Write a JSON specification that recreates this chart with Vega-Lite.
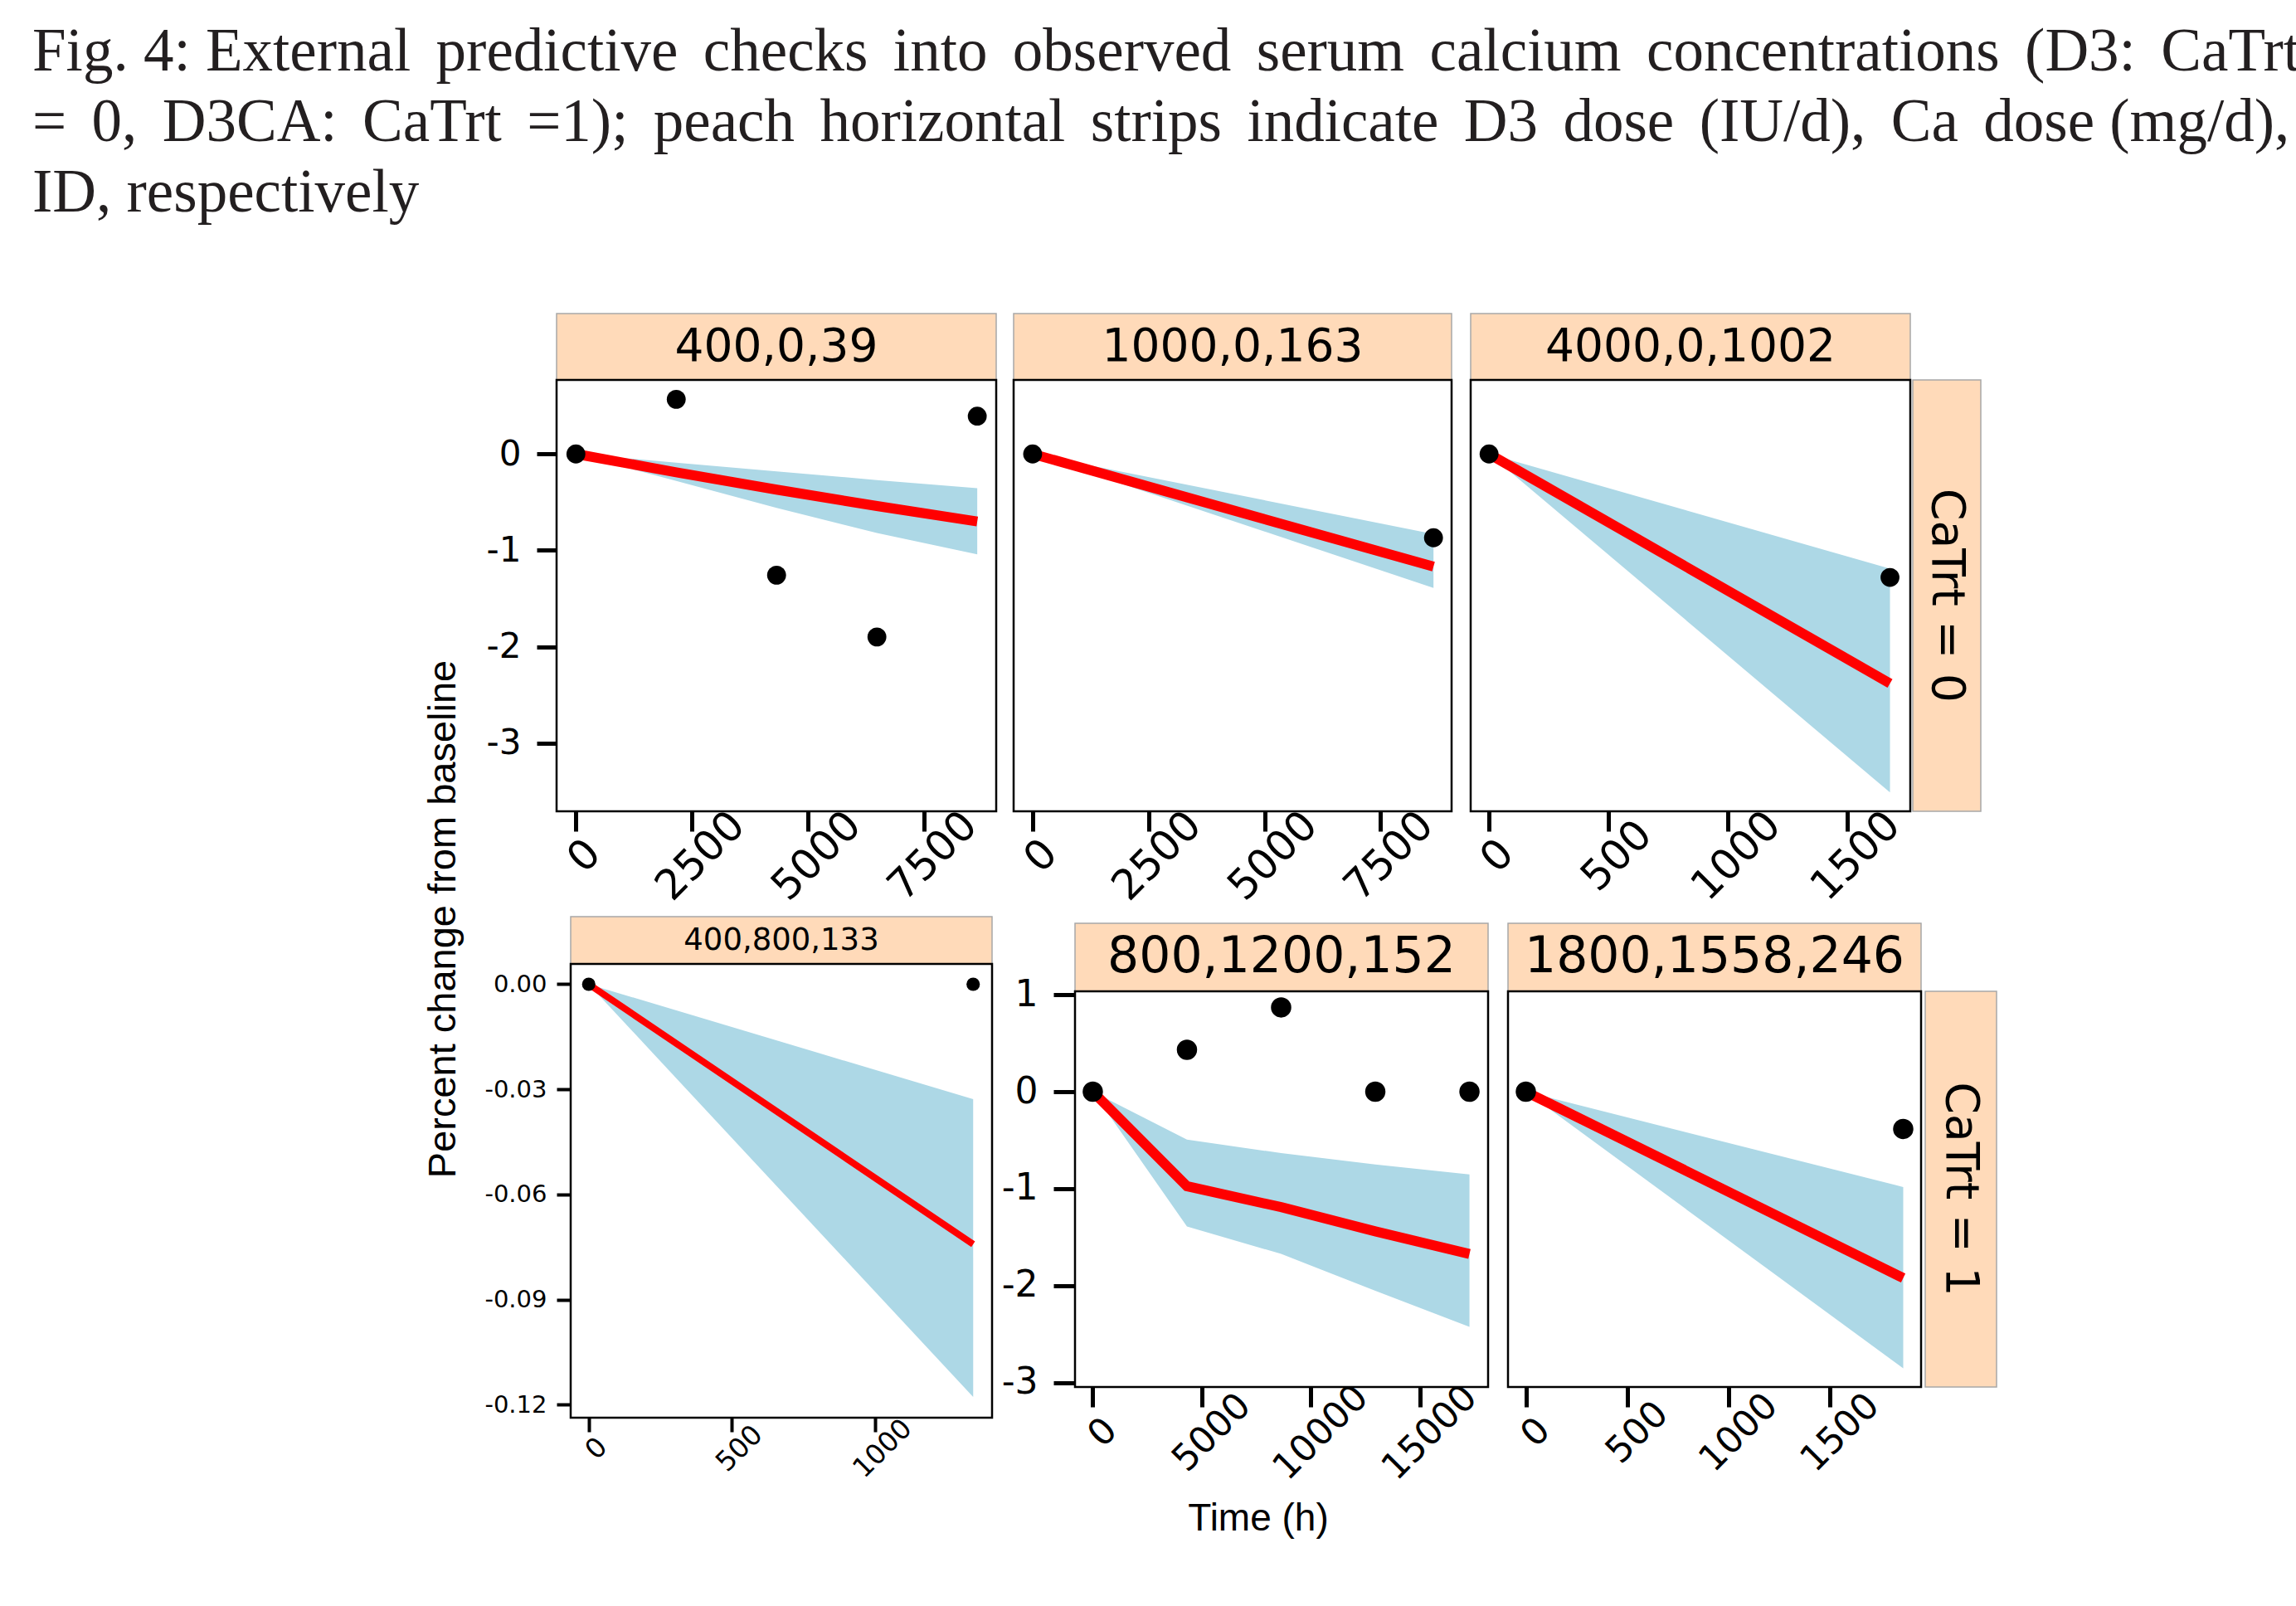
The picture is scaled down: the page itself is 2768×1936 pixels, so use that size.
{
  "$schema": "https://vega.github.io/schema/vega-lite/v6.json",
  "background": "white",
  "padding": {"left": 39, "top": 27, "right": 0, "bottom": 0},
  "title": {
    "text": [
      "Fig. 4: External \u2006predictive \u2006checks \u2006into \u2006observed \u2006serum \u2006calcium \u2006concentrations \u2006(D3: \u2006CaTrt",
      "= \u20060, \u2006D3CA: \u2006CaTrt \u2006=1); \u2006peach \u2006horizontal \u2006strips \u2006indicate \u2006D3 \u2006dose \u2006(IU/d), \u2006Ca \u2006dose (mg/d),",
      "ID, respectively"
    ],
    "anchor": "start",
    "frame": "bounds",
    "font": "Liberation Serif",
    "fontSize": 73,
    "fontWeight": "normal",
    "color": "#231f20",
    "lineHeight": 85,
    "offset": 107,
    "dx": -471
  },
  "config": {
    "view": {"stroke": null},
    "axis": {"domain": false, "grid": false, "tickColor": "black", "labelColor": "black", "labelFont": "DejaVu Sans", "labelOverlap": false, "labelFlush": false},
    "locale": {"number": {"decimal": ".", "thousands": ",", "grouping": [3], "currency": ["$", ""], "minus": "-"}}
  },
  "datasets": {
    "p1": [
      {"t": 0, "obs": 0, "med": 0, "lo": 0, "hi": 0},
      {"t": 2160, "obs": 0.567, "med": -0.19, "lo": -0.28, "hi": -0.09},
      {"t": 4320, "obs": -1.257, "med": -0.37, "lo": -0.56, "hi": -0.18},
      {"t": 6480, "obs": -1.898, "med": -0.54, "lo": -0.82, "hi": -0.27},
      {"t": 8640, "obs": 0.392, "med": -0.70, "lo": -1.04, "hi": -0.354}
    ],
    "p2": [
      {"t": 0, "obs": 0, "med": 0, "lo": 0, "hi": 0},
      {"t": 8640, "obs": -0.869, "med": -1.168, "lo": -1.39, "hi": -0.83}
    ],
    "p3": [
      {"t": 0, "obs": 0, "med": 0, "lo": 0, "hi": 0},
      {"t": 1678, "obs": -1.28, "med": -2.38, "lo": -3.51, "hi": -1.19}
    ],
    "p4": [
      {"t": 0, "obs": 0, "med": 0, "lo": 0, "hi": 0},
      {"t": 1343, "obs": 0, "med": -0.0742, "lo": -0.1178, "hi": -0.0328}
    ],
    "p5": [
      {"t": 0, "obs": 0, "med": 0, "lo": 0, "hi": 0},
      {"t": 4320, "obs": 0.432, "med": -0.974, "lo": -1.389, "hi": -0.493},
      {"t": 8640, "obs": 0.869, "med": -1.19, "lo": -1.672, "hi": -0.633},
      {"t": 12960, "obs": 0, "med": -1.44, "lo": -2.052, "hi": -0.751},
      {"t": 17280, "obs": 0, "med": -1.672, "lo": -2.424, "hi": -0.852}
    ],
    "p6": [
      {"t": 0, "obs": 0, "med": 0, "lo": 0, "hi": 0},
      {"t": 1860, "obs": -0.384, "med": -1.921, "lo": -2.852, "hi": -0.983}
    ]
  },
  "spacing": 22,
  "hconcat": [
    {
      "width": 50, "height": 1460,
      "data": {"values": [{"s": "Percent change from baseline"}]},
      "mark": {"type": "text", "angle": 270, "font": "Liberation Sans", "fontSize": 47, "color": "black", "align": "center", "baseline": "middle"},
      "encoding": {"text": {"field": "s"}}
    },
    {
      "spacing": 8,
      "vconcat": [
        {
          "spacing": 15,
          "hconcat": [
            {
              "spacing": 0, "bounds": "flush",
              "vconcat": [
                {
                  "width": 530, "height": 80,
                  "view": {"fill": "peachpuff", "stroke": "#a8a8a8", "strokeWidth": 1.5},
                  "data": {"values": [{"s": "400,0,39"}]},
                  "mark": {"type": "text", "font": "DejaVu Sans", "fontSize": 55, "color": "black", "align": "center", "baseline": "middle"},
                  "encoding": {"text": {"field": "s"}}
                },
                {
                  "width": 530, "height": 520,
                  "view": {"stroke": "black", "strokeWidth": 2.5},
                  "data": {"name": "p1"},
                  "encoding": {"x": {"field": "t", "type": "quantitative", "scale": {"domain": [-416, 9048], "nice": false, "zero": false}, "axis": {"title": null, "values": [0, 2500, 5000, 7500], "format": "d", "labelAngle": 315, "labelAlign": "center", "labelBaseline": "middle", "labelFontSize": 50, "labelPadding": 30, "labelOffset": 10, "tickSize": 24, "tickWidth": 5}}},
                  "layer": [
                    {"mark": {"type": "area", "color": "#add8e6"}, "encoding": {"y": {"field": "lo", "type": "quantitative", "scale": {"domain": [-3.706, 0.768], "nice": false, "zero": false}, "axis": {"title": null, "values": [0, -1, -2, -3], "format": "d", "labelFontSize": 42, "labelPadding": 19, "tickSize": 24, "tickWidth": 5}}, "y2": {"field": "hi"}}},
                    {"mark": {"type": "line", "color": "#ff0000", "strokeWidth": 12}, "encoding": {"y": {"field": "med", "type": "quantitative", "scale": {"domain": [-3.706, 0.768], "nice": false, "zero": false}, "axis": {"title": null, "values": [0, -1, -2, -3], "format": "d", "labelFontSize": 42, "labelPadding": 19, "tickSize": 24, "tickWidth": 5}}}},
                    {"mark": {"type": "point", "filled": true, "color": "black", "opacity": 1, "size": 520}, "encoding": {"y": {"field": "obs", "type": "quantitative", "scale": {"domain": [-3.706, 0.768], "nice": false, "zero": false}, "axis": {"title": null, "values": [0, -1, -2, -3], "format": "d", "labelFontSize": 42, "labelPadding": 19, "tickSize": 24, "tickWidth": 5}}}}
                  ]
                }
              ]
            },
            {
              "spacing": 0, "bounds": "flush",
              "vconcat": [
                {
                  "width": 528, "height": 80,
                  "view": {"fill": "peachpuff", "stroke": "#a8a8a8", "strokeWidth": 1.5},
                  "data": {"values": [{"s": "1000,0,163"}]},
                  "mark": {"type": "text", "font": "DejaVu Sans", "fontSize": 55, "color": "black", "align": "center", "baseline": "middle"},
                  "encoding": {"text": {"field": "s"}}
                },
                {
                  "width": 528, "height": 520,
                  "view": {"stroke": "black", "strokeWidth": 2.5},
                  "data": {"name": "p2"},
                  "encoding": {"x": {"field": "t", "type": "quantitative", "scale": {"domain": [-410, 9030], "nice": false, "zero": false}, "axis": {"title": null, "values": [0, 2500, 5000, 7500], "format": "d", "labelAngle": 315, "labelAlign": "center", "labelBaseline": "middle", "labelFontSize": 50, "labelPadding": 30, "labelOffset": 10, "tickSize": 24, "tickWidth": 5}}},
                  "layer": [
                    {"mark": {"type": "area", "color": "#add8e6"}, "encoding": {"y": {"field": "lo", "type": "quantitative", "scale": {"domain": [-3.706, 0.768], "nice": false, "zero": false}, "axis": null}, "y2": {"field": "hi"}}},
                    {"mark": {"type": "line", "color": "#ff0000", "strokeWidth": 12}, "encoding": {"y": {"field": "med", "type": "quantitative", "scale": {"domain": [-3.706, 0.768], "nice": false, "zero": false}, "axis": null}}},
                    {"mark": {"type": "point", "filled": true, "color": "black", "opacity": 1, "size": 520}, "encoding": {"y": {"field": "obs", "type": "quantitative", "scale": {"domain": [-3.706, 0.768], "nice": false, "zero": false}, "axis": null}}}
                  ]
                }
              ]
            },
            {
              "spacing": 0,
              "hconcat": [
                {
                  "spacing": 0, "bounds": "flush",
                  "vconcat": [
                    {
                      "width": 530, "height": 80,
                      "view": {"fill": "peachpuff", "stroke": "#a8a8a8", "strokeWidth": 1.5},
                      "data": {"values": [{"s": "4000,0,1002"}]},
                      "mark": {"type": "text", "font": "DejaVu Sans", "fontSize": 55, "color": "black", "align": "center", "baseline": "middle"},
                      "encoding": {"text": {"field": "s"}}
                    },
                    {
                      "width": 530, "height": 520,
                      "view": {"stroke": "black", "strokeWidth": 2.5},
                      "data": {"name": "p3"},
                      "encoding": {"x": {"field": "t", "type": "quantitative", "scale": {"domain": [-77, 1763], "nice": false, "zero": false}, "axis": {"title": null, "values": [0, 500, 1000, 1500], "format": "d", "labelAngle": 315, "labelAlign": "center", "labelBaseline": "middle", "labelFontSize": 50, "labelPadding": 30, "labelOffset": 10, "tickSize": 24, "tickWidth": 5}}},
                      "layer": [
                        {"mark": {"type": "area", "color": "#add8e6"}, "encoding": {"y": {"field": "lo", "type": "quantitative", "scale": {"domain": [-3.706, 0.768], "nice": false, "zero": false}, "axis": null}, "y2": {"field": "hi"}}},
                        {"mark": {"type": "line", "color": "#ff0000", "strokeWidth": 12}, "encoding": {"y": {"field": "med", "type": "quantitative", "scale": {"domain": [-3.706, 0.768], "nice": false, "zero": false}, "axis": null}}},
                        {"mark": {"type": "point", "filled": true, "color": "black", "opacity": 1, "size": 520}, "encoding": {"y": {"field": "obs", "type": "quantitative", "scale": {"domain": [-3.706, 0.768], "nice": false, "zero": false}, "axis": null}}}
                      ]
                    }
                  ]
                },
                {
                  "spacing": 0, "bounds": "flush",
                  "vconcat": [
                    {"width": 82, "height": 80, "data": {"values": []}, "mark": "point"},
                    {
                      "width": 82, "height": 520,
                      "view": {"fill": "peachpuff", "stroke": "#a8a8a8", "strokeWidth": 1.5},
                      "data": {"values": [{"s": "CaTrt = 0"}]},
                      "mark": {"type": "text", "angle": 90, "font": "DejaVu Sans", "fontSize": 55, "color": "black", "align": "center", "baseline": "middle"},
                      "encoding": {"text": {"field": "s"}}
                    }
                  ]
                }
              ]
            }
          ]
        },
        {
          "spacing": 0,
          "vconcat": [
            {
              "spacing": 0, "bounds": "flush",
              "hconcat": [
                {"width": 17, "height": 1, "data": {"values": []}, "mark": "point"},
                {
                  "spacing": 7,
                  "hconcat": [
                    {
                      "spacing": 0, "bounds": "flush",
                      "vconcat": [
                        {
                          "width": 508, "height": 57,
                          "view": {"fill": "peachpuff", "stroke": "#a8a8a8", "strokeWidth": 1.5},
                          "data": {"values": [{"s": "400,800,133"}]},
                          "mark": {"type": "text", "font": "DejaVu Sans", "fontSize": 37, "color": "black", "align": "center", "baseline": "middle"},
                          "encoding": {"text": {"field": "s"}}
                        },
                        {
                          "width": 508, "height": 547,
                          "view": {"stroke": "black", "strokeWidth": 2.5},
                          "data": {"name": "p4"},
                          "encoding": {"x": {"field": "t", "type": "quantitative", "scale": {"domain": [-63, 1409], "nice": false, "zero": false}, "axis": {"title": null, "values": [0, 500, 1000], "format": "d", "labelAngle": 315, "labelAlign": "center", "labelBaseline": "middle", "labelFontSize": 33, "labelPadding": 20, "labelOffset": 9, "tickSize": 17, "tickWidth": 4}}},
                          "layer": [
                            {"mark": {"type": "area", "color": "#add8e6"}, "encoding": {"y": {"field": "lo", "type": "quantitative", "scale": {"domain": [-0.1237, 0.0058], "nice": false, "zero": false}, "axis": {"title": null, "values": [0, -0.03, -0.06, -0.09, -0.12], "format": ".2f", "labelFontSize": 29, "labelPadding": 12, "tickSize": 17, "tickWidth": 4}}, "y2": {"field": "hi"}}},
                            {"mark": {"type": "line", "color": "#ff0000", "strokeWidth": 8}, "encoding": {"y": {"field": "med", "type": "quantitative", "scale": {"domain": [-0.1237, 0.0058], "nice": false, "zero": false}, "axis": {"title": null, "values": [0, -0.03, -0.06, -0.09, -0.12], "format": ".2f", "labelFontSize": 29, "labelPadding": 12, "tickSize": 17, "tickWidth": 4}}}},
                            {"mark": {"type": "point", "filled": true, "color": "black", "opacity": 1, "size": 260}, "encoding": {"y": {"field": "obs", "type": "quantitative", "scale": {"domain": [-0.1237, 0.0058], "nice": false, "zero": false}, "axis": {"title": null, "values": [0, -0.03, -0.06, -0.09, -0.12], "format": ".2f", "labelFontSize": 29, "labelPadding": 12, "tickSize": 17, "tickWidth": 4}}}}
                          ]
                        }
                      ]
                    },
                    {
                      "spacing": 0,
                      "vconcat": [
                        {"width": 1, "height": 7, "data": {"values": []}, "mark": "point"},
                        {
                          "spacing": 17,
                          "hconcat": [
                            {
                              "spacing": 0, "bounds": "flush",
                              "vconcat": [
                                {
                                  "width": 498, "height": 82,
                                  "view": {"fill": "peachpuff", "stroke": "#a8a8a8", "strokeWidth": 1.5},
                                  "data": {"values": [{"s": "800,1200,152"}]},
                                  "mark": {"type": "text", "font": "DejaVu Sans", "fontSize": 60, "color": "black", "align": "center", "baseline": "middle"},
                                  "encoding": {"text": {"field": "s"}}
                                },
                                {
                                  "width": 498, "height": 477,
                                  "view": {"stroke": "black", "strokeWidth": 2.5},
                                  "data": {"name": "p5"},
                                  "encoding": {"x": {"field": "t", "type": "quantitative", "scale": {"domain": [-816, 18134], "nice": false, "zero": false}, "axis": {"title": null, "values": [0, 5000, 10000, 15000], "format": "d", "labelAngle": 315, "labelAlign": "center", "labelBaseline": "middle", "labelFontSize": 44, "labelPadding": 31, "labelOffset": 12, "tickSize": 24, "tickWidth": 5}}},
                                  "layer": [
                                    {"mark": {"type": "area", "color": "#add8e6"}, "encoding": {"y": {"field": "lo", "type": "quantitative", "scale": {"domain": [-3.044, 1.035], "nice": false, "zero": false}, "axis": {"title": null, "values": [1, 0, -1, -2, -3], "format": "d", "labelFontSize": 44, "labelPadding": 19, "tickSize": 26, "tickWidth": 5}}, "y2": {"field": "hi"}}},
                                    {"mark": {"type": "line", "color": "#ff0000", "strokeWidth": 12}, "encoding": {"y": {"field": "med", "type": "quantitative", "scale": {"domain": [-3.044, 1.035], "nice": false, "zero": false}, "axis": {"title": null, "values": [1, 0, -1, -2, -3], "format": "d", "labelFontSize": 44, "labelPadding": 19, "tickSize": 26, "tickWidth": 5}}}},
                                    {"mark": {"type": "point", "filled": true, "color": "black", "opacity": 1, "size": 600}, "encoding": {"y": {"field": "obs", "type": "quantitative", "scale": {"domain": [-3.044, 1.035], "nice": false, "zero": false}, "axis": {"title": null, "values": [1, 0, -1, -2, -3], "format": "d", "labelFontSize": 44, "labelPadding": 19, "tickSize": 26, "tickWidth": 5}}}}
                                  ]
                                }
                              ]
                            },
                            {
                              "spacing": 0,
                              "hconcat": [
                                {
                                  "spacing": 0, "bounds": "flush",
                                  "vconcat": [
                                    {
                                      "width": 498, "height": 82,
                                      "view": {"fill": "peachpuff", "stroke": "#a8a8a8", "strokeWidth": 1.5},
                                      "data": {"values": [{"s": "1800,1558,246"}]},
                                      "mark": {"type": "text", "font": "DejaVu Sans", "fontSize": 60, "color": "black", "align": "center", "baseline": "middle"},
                                      "encoding": {"text": {"field": "s"}}
                                    },
                                    {
                                      "width": 498, "height": 477,
                                      "view": {"stroke": "black", "strokeWidth": 2.5},
                                      "data": {"name": "p6"},
                                      "encoding": {"x": {"field": "t", "type": "quantitative", "scale": {"domain": [-88, 1948], "nice": false, "zero": false}, "axis": {"title": null, "values": [0, 500, 1000, 1500], "format": "d", "labelAngle": 315, "labelAlign": "center", "labelBaseline": "middle", "labelFontSize": 44, "labelPadding": 31, "labelOffset": 12, "tickSize": 24, "tickWidth": 5}}},
                                      "layer": [
                                        {"mark": {"type": "area", "color": "#add8e6"}, "encoding": {"y": {"field": "lo", "type": "quantitative", "scale": {"domain": [-3.044, 1.035], "nice": false, "zero": false}, "axis": null}, "y2": {"field": "hi"}}},
                                        {"mark": {"type": "line", "color": "#ff0000", "strokeWidth": 12}, "encoding": {"y": {"field": "med", "type": "quantitative", "scale": {"domain": [-3.044, 1.035], "nice": false, "zero": false}, "axis": null}}},
                                        {"mark": {"type": "point", "filled": true, "color": "black", "opacity": 1, "size": 600}, "encoding": {"y": {"field": "obs", "type": "quantitative", "scale": {"domain": [-3.044, 1.035], "nice": false, "zero": false}, "axis": null}}}
                                      ]
                                    }
                                  ]
                                },
                                {
                                  "spacing": 0, "bounds": "flush",
                                  "vconcat": [
                                    {"width": 86, "height": 82, "data": {"values": []}, "mark": "point"},
                                    {
                                      "width": 86, "height": 477,
                                      "view": {"fill": "peachpuff", "stroke": "#a8a8a8", "strokeWidth": 1.5},
                                      "data": {"values": [{"s": "CaTrt = 1"}]},
                                      "mark": {"type": "text", "angle": 90, "font": "DejaVu Sans", "fontSize": 55, "color": "black", "align": "center", "baseline": "middle"},
                                      "encoding": {"text": {"field": "s"}}
                                    }
                                  ]
                                }
                              ]
                            }
                          ]
                        }
                      ]
                    }
                  ]
                }
              ]
            },
            {
              "width": 1692, "height": 74,
              "data": {"values": [{"s": "Time (h)"}]},
              "mark": {"type": "text", "font": "Liberation Sans", "fontSize": 46, "color": "black", "align": "center", "baseline": "middle"},
              "encoding": {"text": {"field": "s"}}
            }
          ]
        }
      ]
    }
  ]
}
